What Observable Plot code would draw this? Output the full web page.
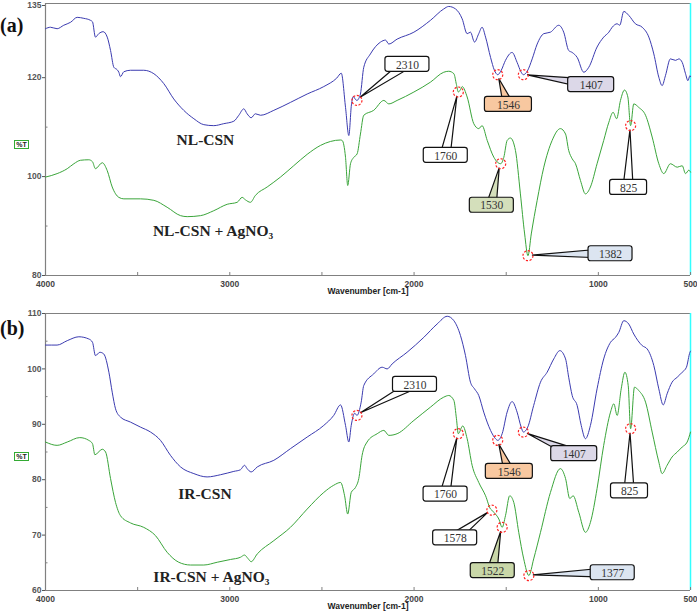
<!DOCTYPE html>
<html>
<head>
<meta charset="utf-8">
<script src="https://cdn.jsdelivr.net/npm/d3@7"></script>
<script src="https://cdn.jsdelivr.net/npm/@observablehq/plot@0.6"></script>
<style>
  body { margin: 0; background: #fff; }
  #fig { position: relative; width: 697px; height: 612px; overflow: hidden; background: #fff; }
  .panel { position: absolute; left: 0; }
  .tag { position: absolute; left: 0; font: bold 20px/20px "Liberation Serif", "Times New Roman", serif; color: #111; }
  .pt { position: absolute; left: 14px; width: 13px; height: 7px; border: 1px solid #33aa33;
        font: bold 7px/7px "Liberation Sans", Arial, sans-serif; color: #222; text-align: center; }
</style>
</head>
<body>
<div id="fig">
  <div class="tag" style="top:15px">(a)</div>
  <div class="tag" style="top:318px">(b)</div>
  <div class="pt" style="top:140px">%T</div>
  <div class="pt" style="top:452px">%T</div>
</div>
<script>
// ---------- DATA: [wavenumber cm-1, %T] ----------
const nlCsn = [
  [4000,129.9],[3973,130.2],[3937,129.9],[3901,130.6],[3864,131.2],[3828,132.2],[3792,132.0],[3756,131.6],
  [3745,131.3],[3729,128.2],[3711,128.9],[3687,129.3],[3665,128.2],[3647,125.5],[3629,122.1],[3611,121.6],
  [3602,121.1],[3593,120.2],[3575,121.2],[3539,121.5],[3467,121.5],[3412,120.8],[3358,118.8],[3304,115.7],
  [3250,113.4],[3195,111.7],[3141,110.5],[3087,110.3],[3033,110.7],[2978,111.2],[2951,112.4],[2924,113.7],
  [2906,112.7],[2884,111.9],[2861,112.7],[2833,112.4],[2761,113.4],[2671,115.0],[2580,116.7],[2490,118.2],
  [2420,119.9],[2395,120.9],[2372,114.0],[2354,108.3],[2340,114.5],[2330,116.2],[2318,115.6],[2310,115.4],
  [2300,115.8],[2291,116.7],[2273,122.1],[2237,124.8],[2182,127.2],[2155,127.6],[2137,126.8],[2092,127.8],
  [2001,129.2],[1911,131.6],[1839,133.9],[1812,134.4],[1775,133.9],[1739,131.9],[1712,128.9],[1694,129.2],
  [1672,127.2],[1649,128.9],[1631,130.2],[1612,128.2],[1585,124.1],[1564,121.5],[1546,120.6],[1527,121.5],
  [1504,123.5],[1468,125.1],[1441,123.1],[1420,121.2],[1407,120.6],[1386,121.3],[1359,123.8],[1332,126.8],
  [1296,128.9],[1260,129.2],[1215,130.6],[1188,129.2],[1161,125.5],[1142,125.1],[1115,124.1],[1079,121.1],
  [1052,122.1],[1007,126.2],[971,128.2],[943,129.2],[925,130.2],[898,130.9],[884,130.6],[862,133.4],
  [835,132.6],[799,130.9],[762,130.2],[726,128.2],[699,124.8],[672,120.1],[654,118.4],[636,120.4],
  [609,123.8],[581,123.5],[563,123.8],[545,123.1],[527,120.8],[514,119.4],[503,120.4],[500,120.2]
];
const nlCsnAg = [
  [4000,99.9],[3937,100.6],[3882,101.6],[3846,102.6],[3810,103.3],[3765,103.4],[3745,103.0],[3729,101.6],
  [3692,102.8],[3665,101.2],[3638,97.9],[3602,95.8],[3575,95.5],[3485,95.5],[3412,95.2],[3340,93.8],
  [3267,92.1],[3231,91.9],[3159,92.1],[3087,93.1],[3014,94.4],[2960,94.8],[2933,95.8],[2915,95.3],
  [2888,94.8],[2861,96.2],[2797,97.9],[2725,99.9],[2653,102.2],[2580,104.5],[2508,106.3],[2454,107.1],
  [2399,107.4],[2390,107.3],[2372,103.9],[2360,98.2],[2345,102.6],[2327,103.9],[2309,104.6],[2291,108.6],
  [2273,112.4],[2219,113.4],[2164,115.4],[2137,114.7],[2092,115.4],[2001,117.1],[1911,119.1],[1839,121.1],
  [1812,121.3],[1784,120.8],[1770,118.6],[1760,117.1],[1748,117.6],[1739,118.2],[1712,116.1],[1676,110.7],
  [1649,109.7],[1631,110.3],[1603,107.3],[1567,103.9],[1530,102.6],[1513,103.9],[1495,107.3],[1477,107.8],
  [1450,105.3],[1423,96.5],[1400,88.4],[1382,84.0],[1364,88.4],[1332,95.2],[1296,101.9],[1251,107.3],
  [1206,109.7],[1178,108.6],[1161,105.3],[1142,103.6],[1124,102.6],[1097,99.2],[1070,96.5],[1043,97.9],
  [1007,102.6],[971,107.3],[943,111.0],[920,113.0],[901,111.7],[880,115.4],[858,117.5],[840,116.1],
  [825,110.3],[808,114.7],[781,114.0],[744,112.4],[708,108.0],[672,102.6],[645,100.6],[609,102.6],
  [572,101.9],[545,102.2],[527,100.6],[509,101.3],[500,100.9]
];
const irCsn = [
  [4000,104.3],[3937,104.3],[3882,105.1],[3819,105.8],[3765,105.4],[3745,104.8],[3729,102.4],[3705,103.0],
  [3684,102.7],[3656,99.4],[3638,95.8],[3620,92.8],[3593,91.3],[3539,90.4],[3485,89.5],[3430,88.6],
  [3376,87.1],[3322,84.4],[3267,82.3],[3195,81.1],[3123,80.5],[3050,80.9],[2978,81.5],[2942,81.8],
  [2920,82.6],[2906,82.0],[2884,81.4],[2851,82.3],[2761,83.5],[2671,85.6],[2580,87.7],[2490,89.8],
  [2436,91.6],[2399,93.5],[2372,89.8],[2354,86.8],[2341,89.8],[2322,92.0],[2310,91.6],[2287,94.0],
  [2273,97.0],[2219,99.1],[2173,100.3],[2146,100.0],[2119,100.9],[2038,103.0],[1947,105.7],[1875,108.1],
  [1820,109.5],[1784,108.7],[1748,106.0],[1721,102.4],[1694,97.6],[1672,96.4],[1649,95.2],[1622,92.2],
  [1585,88.9],[1558,87.4],[1546,87.1],[1522,88.3],[1495,92.2],[1468,94.1],[1441,92.2],[1419,89.5],
  [1407,88.6],[1383,89.5],[1351,93.4],[1314,97.6],[1278,99.4],[1242,101.8],[1209,103.3],[1178,101.8],
  [1161,98.5],[1142,95.2],[1115,93.4],[1093,89.8],[1070,87.4],[1043,89.8],[1007,96.4],[971,101.8],
  [934,104.8],[907,105.7],[889,106.6],[862,108.7],[835,108.1],[808,106.3],[762,104.2],[735,103.6],
  [699,100.6],[672,96.4],[648,93.5],[627,95.5],[600,97.6],[572,98.5],[545,99.4],[522,100.3],[503,103.0],[500,103.2]
];
const irCsnAg = [
  [4000,86.8],[3937,86.2],[3882,86.8],[3814,87.6],[3765,87.1],[3745,86.5],[3732,84.5],[3692,85.5],
  [3674,85.0],[3647,80.2],[3620,75.9],[3593,73.5],[3539,72.2],[3467,71.4],[3403,69.9],[3340,66.9],
  [3277,65.1],[3213,64.6],[3141,64.6],[3068,65.1],[2996,65.6],[2942,66.0],[2920,66.4],[2902,65.8],
  [2884,65.2],[2851,66.6],[2761,69.0],[2671,71.4],[2580,74.7],[2490,77.7],[2436,79.0],[2399,79.5],
  [2377,77.1],[2360,73.8],[2341,77.7],[2318,78.6],[2300,80.2],[2282,84.4],[2255,86.8],[2200,88.3],
  [2164,88.9],[2137,88.0],[2092,88.3],[2001,90.7],[1911,93.1],[1839,94.9],[1812,95.2],[1784,94.3],
  [1770,91.0],[1760,88.3],[1736,89.7],[1712,87.4],[1685,82.6],[1649,79.5],[1612,77.1],[1585,74.7],
  [1578,74.5],[1567,74.1],[1540,72.9],[1522,71.4],[1504,73.5],[1481,77.1],[1459,75.9],[1432,70.5],
  [1405,65.7],[1377,62.7],[1351,65.7],[1314,70.5],[1260,77.7],[1206,82.0],[1178,80.2],[1155,76.6],
  [1137,77.1],[1106,74.1],[1070,70.5],[1043,72.3],[1007,78.4],[971,86.2],[934,92.2],[916,93.7],
  [898,91.6],[876,96.4],[856,99.4],[838,97.0],[825,89.2],[804,96.7],[781,96.1],[744,94.0],
  [708,88.6],[672,83.2],[654,81.1],[627,82.6],[600,84.1],[572,85.0],[545,85.9],[518,86.8],[500,88.6]
];

// peak annotations: label, wavenumber, %T at peak, callout centre (wavenumber, %T)
const peaksA = [
  {label: "2310", wn: 2310, t: 115.4, lx: 2036, ly: 122.7},
  {label: "1760", wn: 1760, t: 117.1, lx: 1828, ly: 104.3},
  {label: "1546", wn: 1546, t: 120.6, lx: 1488, ly: 114.6},
  {label: "1407", wn: 1407, t: 120.6, lx: 1039, ly: 118.6},
  {label: "1530", wn: 1530, t: 102.6, lx: 1578, ly: 94.2},
  {label: "1382", wn: 1382, t: 84.0, lx: 934, ly: 84.4},
  {label: "825", wn: 825, t: 110.3, lx: 836, ly: 97.8}
];
const peaksB = [
  {label: "2310", wn: 2310, t: 91.6, lx: 1995, ly: 97.2},
  {label: "1760", wn: 1760, t: 88.3, lx: 1829, ly: 77.4},
  {label: "1546", wn: 1546, t: 87.1, lx: 1483, ly: 81.5},
  {label: "1407", wn: 1407, t: 88.6, lx: 1131, ly: 84.7},
  {label: "825", wn: 825, t: 89.2, lx: 831, ly: 78.0},
  {label: "1578", wn: 1578, t: 74.5, lx: 1777, ly: 69.5},
  {label: "1522", wn: 1522, t: 71.4, lx: 1573, ly: 63.6},
  {label: "1377", wn: 1377, t: 62.7, lx: 922, ly: 63.2}
];
const seriesLabelsA = [
  {text: "NL-CSN", wn: 3132, t: 107.3},
  {text: "NL-CSN + AgNO\u2083", wn: 3091, t: 89.0}
];
const seriesLabelsB = [
  {text: "IR-CSN", wn: 3135, t: 77.5},
  {text: "IR-CSN + AgNO\u2083", wn: 3100, t: 62.4}
];
const xMajor = [4000, 3000, 2000, 1000, 500];
const xMinor = [3500, 2500, 1500];
const yMajorA = [135, 120, 100, 80], yMinorA = [110, 90];
const yMajorB = [110, 100, 90, 80, 70, 60], yMinorB = [105, 95, 85, 75, 65];

// ---------- STYLES ----------
const BLUE = "#3b3bb0", GREEN = "#3aa53a";
const calloutFill = {
  "1546": "#f8c8a0", "1407": "#dcd8e8", "1530": "#d4dfbb", "1522": "#c9d7a8",
  "1382": "#dce5f1", "1377": "#dce5f1"
};
const calloutWidth = {"825": 37, "1546": 47, "1407": 46};

function callouts(peaks) {
  return (index, scales) => {
    const g = d3.create("svg:g");
    for (const p of peaks) {
      const px = scales.x(p.wn), py = scales.y(p.t);
      const bx = scales.x(p.lx), by = scales.y(p.ly);
      const w = calloutWidth[p.label] ?? 44, h = 15;
      const fill = calloutFill[p.label] ?? "#fff";
      const dx = px - bx, dy = py - by, len = Math.hypot(dx, dy);
      const ux = dx / len, uy = dy / len, nx = -uy, ny = ux, hw = 5;
      const ax = px - ux * 4.5, ay = py - uy * 4.5;
      g.append("path")
        .attr("d", `M${bx + nx * hw},${by + ny * hw}L${ax},${ay}L${bx - nx * hw},${by - ny * hw}Z`)
        .attr("fill", fill).attr("stroke", "#111").attr("stroke-width", 1.2);
      g.append("rect")
        .attr("x", bx - w / 2).attr("y", by - h / 2).attr("width", w).attr("height", h)
        .attr("rx", 2.5).attr("fill", fill).attr("stroke", "#111").attr("stroke-width", 1.2);
    }
    return g.node();
  };
}

function panel({height, marginTop, marginBottom, yDomain, yMajor, yMinor, blue, green, peaks, labels}) {
  const plotH = height - marginTop - marginBottom;
  const plotW = 697 - 45 - 7;
  const topTick = yMajor.filter(v => v === yDomain[1]);
  const otherTicks = yMajor.filter(v => v !== yDomain[1]);
  const yAxisStyle = {tickSize: 3, tickPadding: 1, tickFormat: d => String(d), fontSize: 8.5, fontWeight: "bold", color: "#555", label: null};
  return Plot.plot({
    width: 697, height, marginLeft: 45, marginRight: 7, marginTop, marginBottom,
    style: {background: "transparent", fontFamily: "Liberation Sans, Arial, sans-serif", overflow: "visible"},
    x: {domain: [4000, 500]},
    y: {domain: yDomain},
    marks: [
      Plot.ruleY([yDomain[1]], {stroke: "#808080", strokeWidth: 1.2}),
      Plot.ruleY([yDomain[0]], {stroke: "#808080", strokeWidth: 1.2}),
      Plot.ruleX([4000], {stroke: "#808080", strokeWidth: 1.2}),
      Plot.ruleX([500], {stroke: "#33ffff", strokeWidth: 1.5}),
      Plot.tickX([...xMajor, ...xMinor], {insetTop: plotH - 3, stroke: "#808080"}),
      Plot.tickY(yMinor, {insetRight: plotW - 2.5, stroke: "#808080"}),
      Plot.axisX(xMajor, {tickSize: 0, tickPadding: 5, tickFormat: d => String(d), fontSize: 8.5, fontWeight: "bold", color: "#444", label: null}),
      Plot.axisY(otherTicks, yAxisStyle),
      Plot.axisY(topTick, {...yAxisStyle, dy: marginTop < 6 ? 2 : 0}),
      Plot.text(["Wavenumber [cm-1]"], {frameAnchor: "bottom", dy: 18.5, fontSize: 8.5, fontWeight: "bold", fill: "#222"}),
      Plot.line(blue, {x: d => d[0], y: d => d[1], stroke: BLUE, strokeWidth: 1, curve: "monotone-x"}),
      Plot.line(green, {x: d => d[0], y: d => d[1], stroke: GREEN, strokeWidth: 1, curve: "monotone-x"}),
      callouts(peaks),
      Plot.text(peaks, {x: "lx", y: "ly", text: "label", fontFamily: "Liberation Serif, Times New Roman, serif", fontSize: 11.5, fill: "#333", dy: 0.5}),
      Plot.dot(peaks, {x: "wn", y: "t", r: 5, stroke: "#ff2222", strokeWidth: 1.2, strokeDasharray: "2.2,1.6", fill: "none"}),
      Plot.text(labels, {x: "wn", y: "t", text: "text", fontFamily: "Liberation Serif, Times New Roman, serif", fontWeight: "bold", fontSize: 15.5, fill: "#222"})
    ]
  });
}

const fig = document.getElementById("fig");
const a = panel({height: 300, marginTop: 3, marginBottom: 25, yDomain: [80, 135], yMajor: yMajorA, yMinor: yMinorA,
                 blue: nlCsn, green: nlCsnAg, peaks: peaksA, labels: seriesLabelsA});
const b = panel({height: 312, marginTop: 13, marginBottom: 22, yDomain: [60, 110], yMajor: yMajorB, yMinor: yMinorB,
                 blue: irCsn, green: irCsnAg, peaks: peaksB, labels: seriesLabelsB});
const wa = document.createElement("div"); wa.className = "panel"; wa.style.top = "0px"; wa.appendChild(a);
const wb = document.createElement("div"); wb.className = "panel"; wb.style.top = "300px"; wb.appendChild(b);
fig.insertBefore(wb, fig.firstChild);
fig.insertBefore(wa, fig.firstChild);
</script>
</body>
</html>
